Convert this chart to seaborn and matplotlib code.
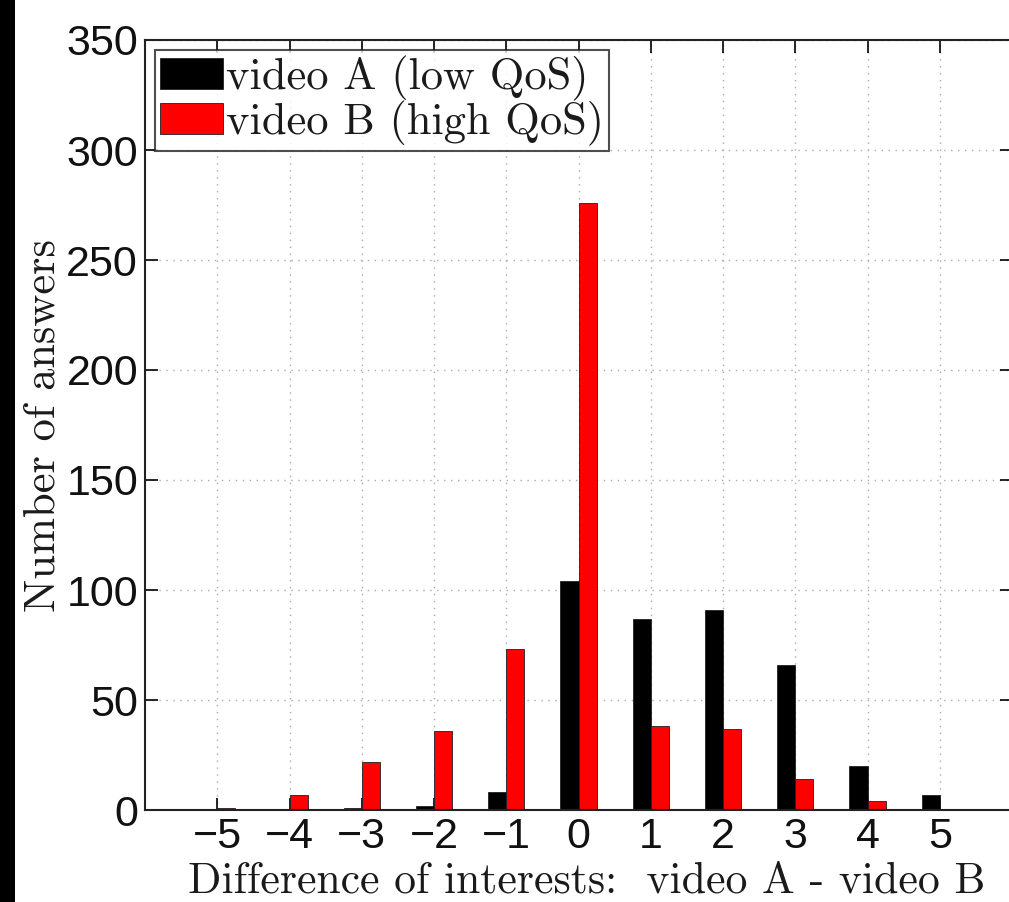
import matplotlib
matplotlib.use("Agg")
import matplotlib.pyplot as plt
import seaborn as sns
import pandas as pd
from matplotlib.patches import Rectangle

differences = [-5, -4, -3, -2, -1, 0, 1, 2, 3, 4, 5]
video_a = [0, 0, 1, 2, 8, 104, 87, 91, 66, 20, 7]
video_b = [1, 7, 22, 36, 73, 276, 38, 37, 14, 4, 0]
series_names = ["video A (low QoS)", "video B (high QoS)"]
tick_labels = ["\u22125", "\u22124", "\u22123", "\u22122", "\u22121", "0", "1", "2", "3", "4", "5"]
y_ticks = [0, 50, 100, 150, 200, 250, 300, 350]

df = pd.DataFrame({
    "diff": differences * 2,
    "count": video_a + video_b,
    "series": [series_names[0]] * len(differences) + [series_names[1]] * len(differences),
})

sns.set_theme(style="white")
plt.rcParams["font.family"] = ["Liberation Sans", "DejaVu Sans"]
plt.rcParams["mathtext.fontset"] = "cm"

fig = plt.figure(figsize=(10.09, 9.02), dpi=100)
fig.patch.set_facecolor("white")
fig.patches.append(Rectangle((0, 0), 15 / 1009, 1, transform=fig.transFigure,
                             facecolor="black", edgecolor="none", zorder=0))

ax_w_px = 1012 - 145
ax_h_px = 810 - 40
ax = fig.add_axes([145 / 1009, 1 - 810 / 902, ax_w_px / 1009, ax_h_px / 902])
ax.set_facecolor("white")

sns.barplot(data=df, x="diff", y="count", hue="series", order=differences,
            hue_order=series_names, palette=["#000000", "#ff0000"],
            saturation=1, width=0.5, dodge=True, edgecolor="#202020",
            linewidth=0.6, ax=ax, legend=True)

ax.set_xlim(-1, 11)
ax.set_ylim(0, 350)
ax.set_xticks(range(len(differences)))
ax.set_xticklabels(tick_labels)
ax.set_yticks(y_ticks)
ax.tick_params(axis="both", which="both", direction="in", length=9, width=1.2,
               labelsize=31, top=True, right=True, bottom=True, left=True,
               pad=5, colors="black")
for lab in ax.get_xticklabels() + ax.get_yticklabels():
    lab.set_color("#111111")

ax.grid(True, linestyle=(0, (1, 4)), color="#aaaaaa", linewidth=1.0)
ax.set_axisbelow(True)
for sp in ax.spines.values():
    sp.set_visible(True)
    sp.set_color("#222222")
    sp.set_linewidth(1.5)

serif = ["cmr10", "DejaVu Serif"]
ax.set_xlabel("Difference of interests:  video A - video B", fontsize=31.5,
              family=serif, labelpad=3, color="#1a1a1a")
ax.xaxis.label.set_x(0.51)
ax.set_ylabel("Number of answers", fontsize=32, family=serif, labelpad=2,
              color="#1a1a1a")

leg = ax.legend(loc="upper left", bbox_to_anchor=(10 / ax_w_px, 1 - 10 / ax_h_px),
                frameon=True, fancybox=False,
                prop={"family": serif, "size": 32},
                handlelength=1.4, handleheight=0.7, handletextpad=0.08,
                borderpad=0.12, labelspacing=0.0, borderaxespad=0.0)
leg.get_frame().set_edgecolor("#222222")
leg.get_frame().set_linewidth(1.5)
for t in leg.get_texts():
    t.set_color("#1a1a1a")

fig.savefig("out.png", dpi=100, facecolor="white")
